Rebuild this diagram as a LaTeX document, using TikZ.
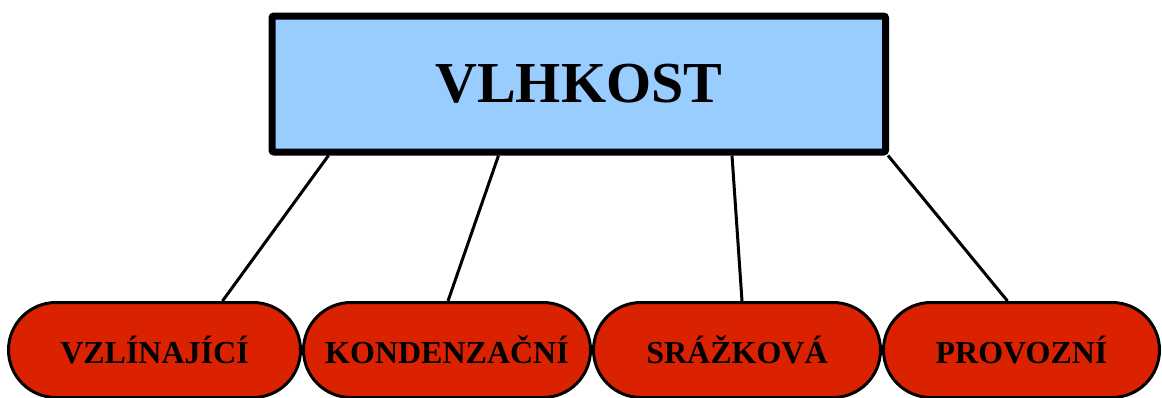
\documentclass[tikz,border=0pt]{standalone}
\usepackage{fontspec}
\setmainfont{Liberation Serif}
\usepackage{tikz}
\usetikzlibrary{arrows,%
                shapes,positioning}
\definecolor{svetlemodra}{HTML}{99CCFF}
\definecolor{cervena}{HTML}{DA2200}
\tikzset{hlavni/.style={draw, line width=7pt, fill=svetlemodra, rounded corners=2pt,
                        minimum width=613.5pt, minimum height=136pt,
                        font=\bfseries\fontsize{58}{62}\selectfont,
                        text height=36pt, text depth=0pt},
         druh/.style={draw, line width=3pt, fill=cervena, rounded rectangle,
                      minimum height=95pt, inner xsep=0pt,
                      font=\bfseries\fontsize{32}{36}\selectfont,
                      text height=26pt, text depth=0pt},
         spoj/.style={line width=3pt}}

\begin{document}
\begin{tikzpicture}[x=1pt, y=-1pt]
\useasboundingbox (0,0) rectangle (1162,397);
\node[hlavni] (V) at (578.75, 84) {VLHKOST};
\node[druh, minimum width=292pt] (Z) at (154.5, 350) {VZLÍNAJÍCÍ};
\node[druh, minimum width=287pt] (K) at (447, 350) {KONDENZAČNÍ};
\node[druh, minimum width=287pt] (S) at (737, 350) {SRÁŽKOVÁ};
\node[druh, minimum width=276pt] (P) at (1021.5, 350) {PROVOZNÍ};
\draw[spoj] ([xshift=60pt]V.south west) -- ([xshift=68pt]Z.north);
\draw[spoj] ([xshift=230pt]V.south west) -- ([xshift=1pt]K.north);
\draw[spoj] ([xshift=-157pt]V.south east) -- ([xshift=5pt]S.north);
\draw[spoj] ([xshift=-1pt]V.south east) -- ([xshift=-14pt]P.north);
\end{tikzpicture}
\end{document}
